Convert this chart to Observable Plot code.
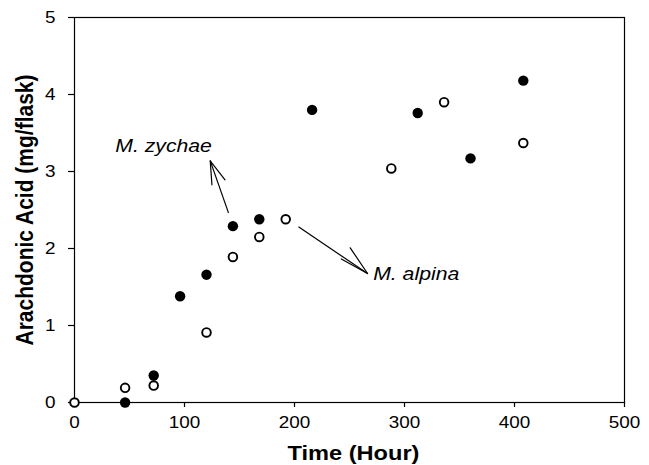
<!DOCTYPE html>
<html><head><meta charset="utf-8">
<script src="https://cdn.jsdelivr.net/npm/d3@7"></script>
<script src="https://cdn.jsdelivr.net/npm/@observablehq/plot@0.6"></script>
<style>body{margin:0;background:#fff}</style>
</head><body><div id="chart"></div>
<script>
// data
const zychaeHours = [46, 72, 96, 120, 144, 168, 216, 312, 360, 408];
const zychaeAA    = [0, 0.35, 1.38, 1.66, 2.29, 2.38, 3.80, 3.76, 3.17, 4.18];
const alpinaHours = [0, 46, 72, 120, 144, 168, 192, 288, 336, 408];
const alpinaAA    = [0, 0.19, 0.22, 0.91, 1.89, 2.15, 2.38, 3.04, 3.90, 3.37];
const xTicks = [0, 100, 200, 300, 400, 500];
const yTicks = [0, 1, 2, 3, 4, 5];
const xTitle = "Time (Hour)";
const yTitle = "Arachdonic Acid (mg/flask)";
const seriesNames = ["M. zychae", "M. alpina"];

// annotations (data units)
const labelX = [37, 271.5];
const labelY = [3.326, 1.664];
const shaftFromX = [140, 203.6];
const shaftFromY = [2.462, 2.281];
const shaftToX = [123.4, 266.4];
const shaftToY = [3.138, 1.675];
const wingAngles = [[176, 142], [326, 299]];
const wingLengths = [[24, 24], [31, 30]];

const zychae = zychaeHours.map((h, i) => ({h, v: zychaeAA[i]}));
const alpina = alpinaHours.map((h, i) => ({h, v: alpinaAA[i]}));
const labels = seriesNames.map((s, i) => ({s, x: labelX[i], y: labelY[i]}));
const shafts = seriesNames.map((s, i) => ({x1: shaftFromX[i], y1: shaftFromY[i], x2: shaftToX[i], y2: shaftToY[i]}));
const wings = seriesNames.flatMap((s, i) => wingAngles[i].map((a, j) => ({x: shaftToX[i], y: shaftToY[i], a, l: wingLengths[i][j]})));

const svg = Plot.plot({
  width: 649, height: 465,
  marginLeft: 74, marginRight: 25, marginTop: 17, marginBottom: 63,
  style: {fontFamily: "'Liberation Sans', Arial, sans-serif", fontSize: "16px", background: "white", color: "black"},
  x: {domain: [0, 500], ticks: xTicks, label: null},
  y: {domain: [0, 5], ticks: yTicks, label: null},
  length: {type: "identity"},
  marks: [
    Plot.axisX({ticks: xTicks, tickFormat: d3.format("d"), tickSize: 5, tickPadding: 9.5, label: null, strokeWidth: 1.2, fontSize: 16}),
    Plot.axisY({ticks: yTicks, tickFormat: d3.format("d"), tickSize: 6, tickPadding: 13, label: null, strokeWidth: 1.2, fontSize: 16}),
    Plot.frame({stroke: "black", strokeWidth: 1.2}),
    Plot.link(shafts, {x1: "x1", y1: "y1", x2: "x2", y2: "y2", stroke: "black", strokeWidth: 1.2}),
    Plot.vector(wings, {x: "x", y: "y", rotate: "a", length: "l", anchor: "start", r: 0, stroke: "black", strokeWidth: 1.2}),
    Plot.dot(zychae, {x: "h", y: "v", r: 5.2, fill: "black", stroke: "none"}),
    Plot.dot(alpina, {x: "h", y: "v", r: 4.3, fill: "white", stroke: "black", strokeWidth: 1.9}),
    Plot.text(labels, {x: "x", y: "y", text: "s", textAnchor: "start", fontSize: 18, fontStyle: "italic"}),
    Plot.text([xTitle], {frameAnchor: "bottom", textAnchor: "middle", dx: 4, dy: 57, fontSize: 20, fontWeight: "bold"}),
    Plot.text([yTitle], {frameAnchor: "left", textAnchor: "middle", rotate: -90, dx: -49, dy: 0, fontSize: 21, fontWeight: "bold"})
  ]
});

// the reference's lettering is horizontally widened; reproduce that
d3.select(svg).selectAll("text").each(function() {
  const t = this.getAttribute("transform") || "";
  this.setAttribute("transform", t + (t.includes("rotate(-90)") ? " scale(1,1.18)" : " scale(1.18,1)"));
});
document.getElementById("chart").append(svg);
</script>
</body></html>
